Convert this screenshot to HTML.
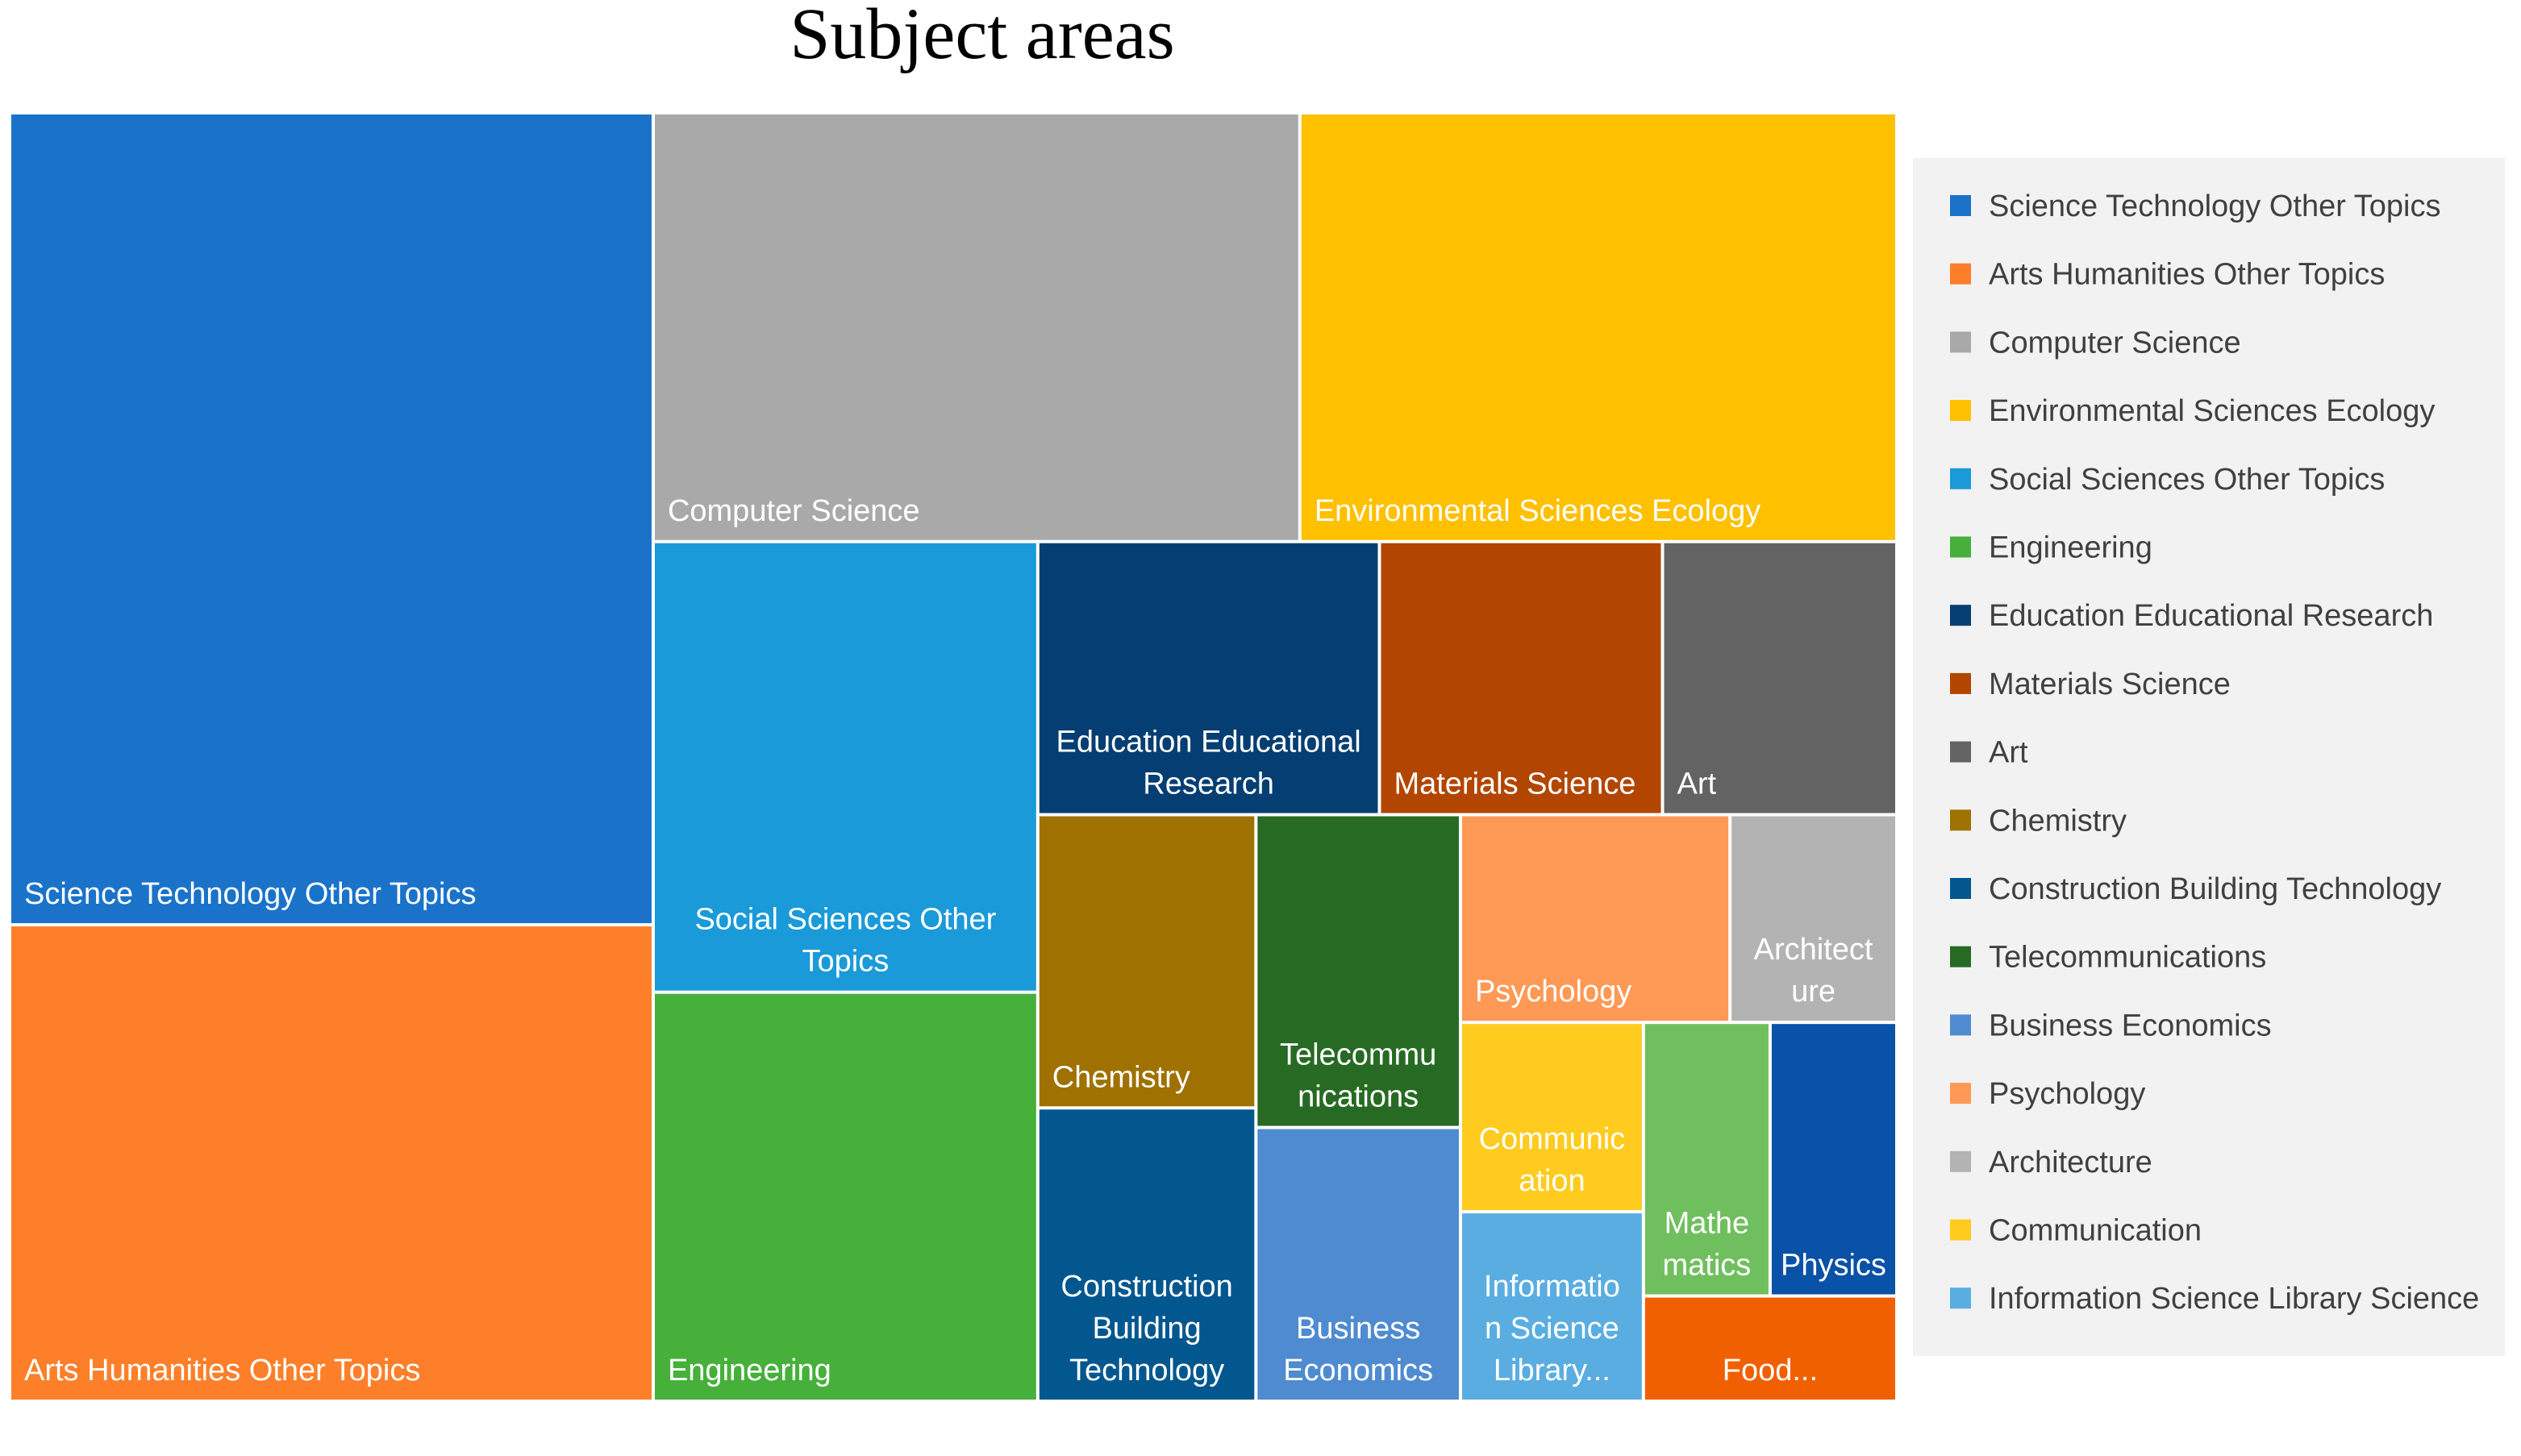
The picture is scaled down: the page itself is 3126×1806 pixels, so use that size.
<!DOCTYPE html>
<html><head><meta charset="utf-8"><style>
html,body{margin:0;padding:0;background:#fff;width:3126px;height:1806px;overflow:hidden}
svg{display:block}
</style></head><body>
<svg id="chart" width="3126" height="1806" viewBox="0 0 1563 903" xmlns="http://www.w3.org/2000/svg" font-family="'Liberation Sans', 'DejaVu Sans', sans-serif">
<text x="609" y="36" text-anchor="middle" font-family="'Liberation Serif', serif" font-size="45" fill="#000">Subject areas</text>
<rect x="1186" y="98" width="367" height="743" fill="#f2f2f2"/>
<g id="cells"></g>
<g id="legend"></g>
</svg>
<script>
const categories = ["Science Technology Other Topics","Arts Humanities Other Topics","Computer Science","Environmental Sciences Ecology","Social Sciences Other Topics","Engineering","Education Educational Research","Materials Science","Art","Chemistry","Construction Building Technology","Telecommunications","Business Economics","Psychology","Architecture","Communication","Information Science Library Science","Mathematics","Physics","Food Science Technology"];
const values = [196,115,104,96,65,59,35,29,24,24,24,24,21,21,13,13,13,13,13,10];
const colors = ["#1a73c9","#fd7f2a","#a9a9a9","#ffc000","#1a9ad8","#46b03a","#043e72","#b24600","#636363","#9e7100","#03578f","#276a23","#4f8bd0","#ff9955","#b3b3b3","#ffcb1f","#5aade0","#70bf5e","#0a51a8","#f06000"];
const labelLines = [["Science Technology Other Topics"],["Arts Humanities Other Topics"],["Computer Science"],["Environmental Sciences Ecology"],["Social Sciences Other","Topics"],["Engineering"],["Education Educational","Research"],["Materials Science"],["Art"],["Chemistry"],["Construction","Building","Technology"],["Telecommu","nications"],["Business","Economics"],["Psychology"],["Architect","ure"],["Communic","ation"],["Informatio","n Science","Library..."],["Mathe","matics"],["Physics"],["Food..."]];
const labelCentered = [0,0,0,0,1,0,1,0,0,0,1,1,1,0,1,1,1,1,1,1];
const legendOrder = [0,1,2,3,4,5,6,7,8,9,10,11,12,13,14,15,16];
// nested slice structure: h = side by side, v = stacked
const tree = {d:"h",c:[{d:"v",c:[0,1]},{d:"v",c:[{d:"h",c:[2,3]},{d:"h",c:[{d:"v",c:[4,5]},{d:"v",c:[{d:"h",c:[6,7,8]},{d:"h",c:[{d:"v",c:[9,10]},{d:"v",c:[11,12]},{d:"v",c:[{d:"h",c:[13,14]},{d:"h",c:[{d:"v",c:[15,16]},{d:"v",c:[{d:"h",c:[17,18]},19]}]}]}]}]}]}]}]};
const NS="http://www.w3.org/2000/svg";
const cells=document.getElementById('cells');
function total(n){return typeof n==="number"?values[n]:n.c.reduce((s,k)=>s+total(k),0);}
function layout(n,x,y,w,h){
  if(typeof n==="number"){drawCell(n,x,y,w,h);return;}
  const t=total(n);let off=0;
  n.c.forEach(k=>{const f=total(k)/t;
    if(n.d==="h"){layout(k,x+off,y,w*f,h);off+=w*f;}
    else{layout(k,x,y+off,w,h*f);off+=h*f;}});
}
function drawCell(i,x,y,w,h){
  const r=document.createElementNS(NS,'rect');
  
  
  r.setAttribute('x',x+1);r.setAttribute('y',y+1);
  r.setAttribute('width',Math.max(0,w-2));r.setAttribute('height',Math.max(0,h-2));
  r.setAttribute('fill',colors[i]);
  cells.appendChild(r);
  const lines=labelLines[i];const n=lines.length;
  lines.forEach((s,j)=>{
    const t=document.createElementNS(NS,'text');
    
    
    const cx=labelCentered[i]?x+w/2:x+9;
    t.setAttribute('x',cx);
    t.setAttribute('y',y+h-13-(n-1-j)*26);
    t.setAttribute('text-anchor',labelCentered[i]?'middle':'start');
    t.setAttribute('font-size','19');
    t.setAttribute('fill','#fff');
    t.textContent=s;cells.appendChild(t);
  });
}
layout(tree,6,70,1170,799);
const lg=document.getElementById('legend');
legendOrder.forEach((i,k)=>{
  const cy=128+k*42.35;
  const r=document.createElementNS(NS,'rect');
  
  
  r.setAttribute('x',1209);r.setAttribute('y',cy-7);r.setAttribute('width',13);r.setAttribute('height',13);
  r.setAttribute('fill',colors[i]);lg.appendChild(r);
  const t=document.createElementNS(NS,'text');
  
  
  t.setAttribute('x',1233);t.setAttribute('y',cy+6);
  t.setAttribute('font-size','19');t.setAttribute('fill','#404040');
  t.textContent=categories[i];lg.appendChild(t);
});
</script>
</body></html>
